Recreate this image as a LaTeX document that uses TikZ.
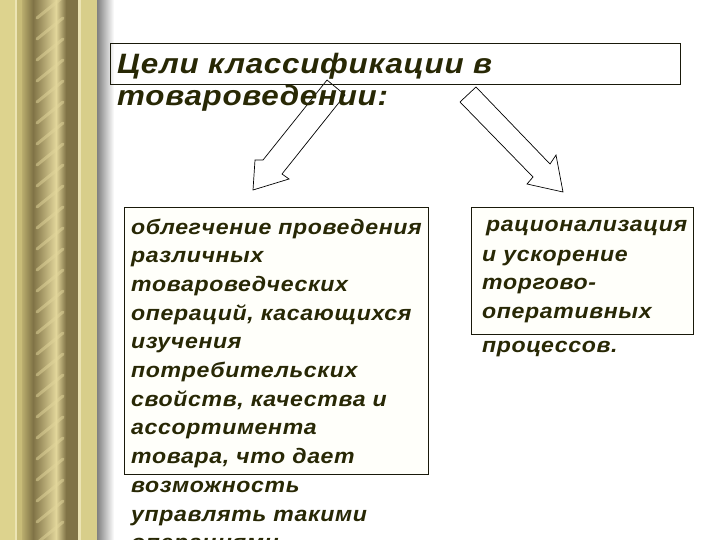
\documentclass[tikz,border=0pt]{standalone}
\usepackage{fontspec}
\setmainfont{Liberation Sans}
\definecolor{txt}{RGB}{40,40,5}
\definecolor{bord}{RGB}{25,25,10}
\definecolor{boxfill}{RGB}{255,255,250}
\definecolor{khakiL}{RGB}{221,211,142}
\definecolor{khakiM}{RGB}{200,188,120}
\definecolor{oliveD}{RGB}{128,115,70}
\definecolor{ropeL}{RGB}{226,214,155}
\definecolor{lineL}{RGB}{236,228,180}
\newcommand{\mybodyfont}{\fontsize{21}{28}\selectfont\bfseries\itshape\addfontfeatures{FakeStretch=1.1,LetterSpace=3}}
\newcommand{\mytitlefont}{\fontsize{28}{34}\selectfont\bfseries\itshape\addfontfeatures{FakeStretch=1.12,LetterSpace=2.6}}
\begin{document}
\begin{tikzpicture}[x=1pt,y=-1pt,
  box/.style={draw=bord, line width=1pt, fill=boxfill, inner sep=0pt, anchor=north west},
  blockarrow/.style={draw=black, line width=0.7pt, fill=white, line join=miter},
  txtline/.style={anchor=base west, inner sep=0pt, text=txt, font=\mybodyfont},
  titleline/.style={anchor=base west, inner sep=0pt, text=txt, font=\mytitlefont},
  stripe/.style={draw=ropeL, line width=3pt, opacity=0.5, line cap=round}]
\useasboundingbox (0,0) rectangle (720,540);
\begin{scope}
\clip (0,0) rectangle (720,540);
% decorative bar
\fill[khakiL] (0,0) rectangle (97,540);
\fill[lineL] (15,0) rectangle (17,540);
\fill[khakiM] (17,0) rectangle (22,540);
\shade[left color=khakiM!80!oliveD, right color=oliveD] (22,0) rectangle (33,540);
\shade[left color=oliveD, right color=ropeL] (33,0) rectangle (56,540);
\shade[left color=ropeL, right color=oliveD] (56,0) rectangle (66,540);
\begin{scope}
\clip (33,0) rectangle (66,540);
\foreach \k in {-1,...,27} \draw[stripe] (37,\k*21+18) -- (63,\k*21-3);
\end{scope}
\fill[oliveD] (66,0) rectangle (78,540);
\fill[lineL] (78,0) rectangle (81,540);
\fill[khakiL!95!oliveD] (81,0) rectangle (97,540);
\shade[left color=black!50, right color=white] (97,0) rectangle (114,540);
% arrows
\draw[blockarrow] (327,80) -- (263,160) -- (255,160) -- (253,190) -- (289,179) -- (282,174) -- (345,95) -- cycle;
\draw[blockarrow] (476,87) -- (550,164) -- (556,155) -- (563,192) -- (527,184) -- (533,177) -- (460,102) -- cycle;
% boxes
\node[box, fill=none, minimum width=570pt, minimum height=41pt] (title) at (110,43) {};
\node[box, minimum width=304pt, minimum height=267pt] (lbox) at (124,207) {};
\node[box, minimum width=222pt, minimum height=127pt] (rbox) at (471,207) {};
% title text
\node[titleline] (t1) at (117,74) {Цели классификации в};
\node[titleline] (t2) at (117,106) {товароведении:};
% left text
\foreach \t [count=\i] in {{облегчение проведения},{различных},{товароведческих},{операций, касающихся},{изучения},{потребительских},{свойств, качества и},{ассортимента},{товара, что дает},{возможность},{управлять такими},{операциями}}
  \node[txtline] (L\i) at (131,{234+28.7*(\i-1)}) {\t};
% right text
\node[txtline] (R1) at (486,232) {рационализация};
\node[txtline] (R2) at (482,261) {и ускорение};
\node[txtline] (R3) at (482,289) {торгово-};
\node[txtline] (R4) at (482,318) {оперативных};
\node[txtline] (R5) at (482,352) {процессов.};
\end{scope}
\end{tikzpicture}
\end{document}
